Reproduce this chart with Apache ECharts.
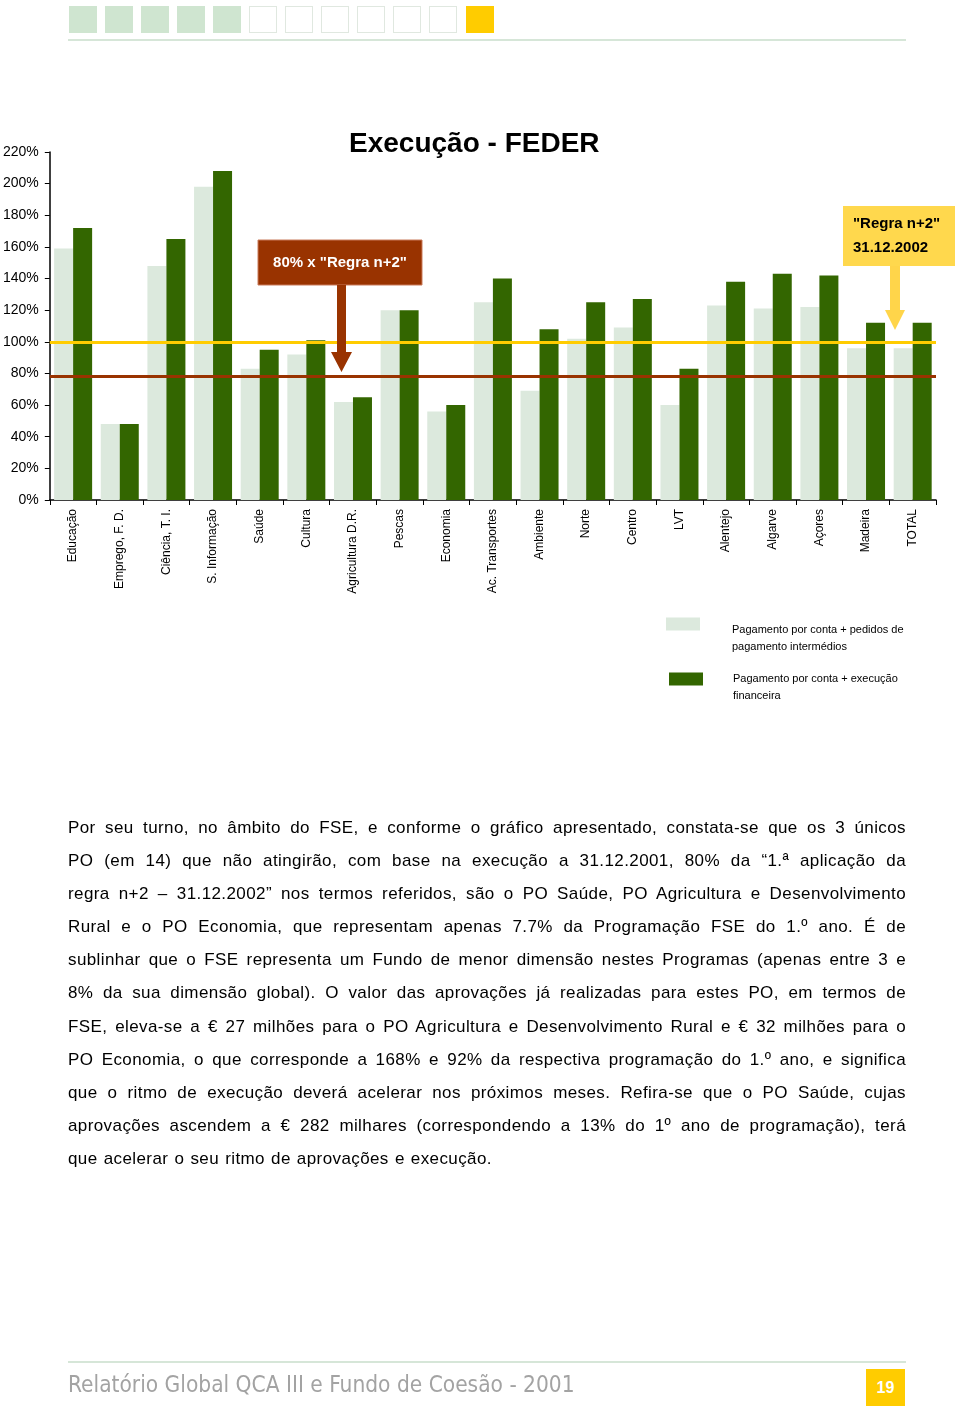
<!DOCTYPE html>
<html>
<head>
<meta charset="utf-8">
<script src="https://cdn.jsdelivr.net/npm/echarts@6/dist/echarts.min.js"></script>
<style>
  html, body { margin:0; padding:0; background:#fff; }
  body { width:960px; height:1409px; position:relative; overflow:hidden; font-family:"Liberation Sans", Arial, sans-serif; }
  #chart { position:absolute; left:0; top:0; width:960px; height:1409px; }
  .sq { position:absolute; top:6px; width:28px; height:27px; box-sizing:border-box; }
  .sq.g { background:#cfe5d0; }
  .sq.o { background:#fff; border:1.5px solid #e0e8e0; }
  .sq.y { background:#ffcc00; }
  .hline { position:absolute; left:68px; width:838px; height:2px; background:#d6e6d8; }
  #para { position:absolute; left:68px; top:811px; width:838px; font-size:17px; color:#000; letter-spacing:0.4px; word-spacing:1px; }
  #para div { height:33.1px; line-height:33.1px; text-align:justify; text-align-last:justify; white-space:nowrap; overflow:visible; }
  #para div.last { text-align-last:left; }
  #foot { position:absolute; left:68px; top:1371px; font-family:"DejaVu Sans", sans-serif; font-stretch:condensed; font-size:22.5px; color:#a3a3a3; }
  #page { position:absolute; left:866px; top:1369px; width:39px; height:37px; background:#ffcc00; color:#fff; font-weight:bold; font-size:16px; text-align:center; line-height:37px; }
</style>
</head>
<body>
<div id="chart"></div>
<div id="hdr"></div>
<div class="hline" style="top:39px"></div>
<div id="para"></div>
<div class="hline" style="top:1361px"></div>
<div id="foot">Relatório Global QCA III e Fundo de Coesão - 2001</div>
<div id="page">19</div>
<script>
// ---- data ----
const categories = ["Educação","Emprego, F. D.","Ciência, T. I.","S. Informação","Saúde","Cultura","Agricultura D.R.","Pescas","Economia","Ac. Transportes","Ambiente","Norte","Centro","LVT","Alentejo","Algarve","Açores","Madeira","TOTAL"];
const lightValues = [159, 48, 148, 198, 83, 92, 62, 120, 56, 125, 69, 102, 109, 60, 123, 121, 122, 96, 96];
const darkValues  = [172, 48, 165, 208, 95, 101, 65, 120, 60, 140, 108, 125, 127, 83, 138, 143, 142, 112, 112];
const lightName = "Pagamento por conta + pedidos de\npagamento intermédios";
const darkName = "Pagamento por conta + execução\nfinanceira";
const regraLine = 100;
const regra80Line = 78;
const yMin = 0, yMax = 220, yStep = 20;
const titleText = "Execução - FEDER";
const redBoxText = "80% x \"Regra n+2\"";
const yellowBoxText = "\"Regra n+2\"\n31.12.2002";
const paragraphLines = [
  "Por seu turno, no âmbito do FSE, e conforme o gráfico apresentado, constata-se que os 3 únicos",
  "PO (em 14) que não atingirão, com base na execução a 31.12.2001, 80% da “1.ª aplicação da",
  "regra n+2 – 31.12.2002” nos termos referidos, são o PO Saúde, PO Agricultura e Desenvolvimento",
  "Rural e o PO Economia, que representam apenas 7.7% da Programação FSE do 1.º ano. É de",
  "sublinhar que o FSE representa um Fundo de menor dimensão nestes Programas (apenas entre 3 e",
  "8% da sua dimensão global). O valor das aprovações já realizadas para estes PO, em termos de",
  "FSE, eleva-se a € 27 milhões para o PO Agricultura e Desenvolvimento Rural e € 32 milhões para o",
  "PO Economia, o que corresponde a 168% e 92% da respectiva programação do 1.º ano, e significa",
  "que o ritmo de execução deverá acelerar nos próximos meses. Refira-se que o PO Saúde, cujas",
  "aprovações ascendem a € 282 milhares (correspondendo a 13% do 1º ano de programação), terá",
  "que acelerar o seu ritmo de aprovações e execução."
];
const headerSquares = ["g","g","g","g","g","o","o","o","o","o","o","y"];

// ---- page decoration ----
const hdr = document.getElementById('hdr');
const sqLeft = [69,105,141,177,213,249,285,321,357,393,429,466];
headerSquares.forEach((c,i)=>{ const d=document.createElement('div'); d.className='sq '+c; d.style.left=sqLeft[i]+'px'; hdr.appendChild(d); });
const para = document.getElementById('para');
paragraphLines.forEach((t,i)=>{ const d=document.createElement('div'); d.textContent=t; if(i===paragraphLines.length-1) d.className='last'; para.appendChild(d); });

// ---- chart ----
const FONT = '"Liberation Sans", Arial, sans-serif';
function legendFmt(name){ return '{s| }\n' + name.split('\n').map(l => '{b|' + l + '}').join('\n'); }
const chart = echarts.init(document.getElementById('chart'), null, {renderer:'canvas'});
chart.setOption({
  animation:false,
  backgroundColor:'transparent',
  textStyle:{fontFamily:FONT},
  title:{ text:titleText, left:344, top:125, textStyle:{fontSize:28, fontWeight:'bold', color:'#000', fontFamily:FONT} },
  grid:{ left:49, right:24, top:152, height:348, containLabel:false },
  legend:[
    { data:[lightName], left:666, top:601.5, padding:0, orient:'vertical', selectedMode:false, icon:'rect', itemWidth:34, itemHeight:13,
      formatter:legendFmt,
      textStyle:{fontSize:11, color:'#000', fontFamily:FONT, padding:[0,0,0,27],
        rich:{ s:{fontSize:11, lineHeight:28}, b:{fontSize:11, lineHeight:17, color:'#000', fontFamily:FONT} } } },
    { data:[darkName], left:669, top:656.5, padding:0, orient:'vertical', selectedMode:false, icon:'rect', itemWidth:34, itemHeight:13,
      formatter:legendFmt,
      textStyle:{fontSize:11, color:'#000', fontFamily:FONT, padding:[0,0,0,25],
        rich:{ s:{fontSize:11, lineHeight:16}, b:{fontSize:11, lineHeight:17, color:'#000', fontFamily:FONT} } } }
  ],
  xAxis:{
    type:'category', data:categories,
    axisLine:{show:true, lineStyle:{color:'#000', width:1.5}},
    axisTick:{show:true, interval:0, length:5, lineStyle:{color:'#000'}},
    axisLabel:{interval:0, rotate:90, fontSize:12, color:'#000', margin:9, fontFamily:FONT},
    splitLine:{show:false}
  },
  yAxis:{
    type:'value', min:yMin, max:yMax, interval:yStep,
    axisLine:{show:true, lineStyle:{color:'#000', width:1.5}},
    axisTick:{show:true, length:5, lineStyle:{color:'#000'}},
    axisLabel:{formatter:'{value}%', fontSize:14, color:'#000', margin:11, fontFamily:FONT},
    splitLine:{show:false}
  },
  series:[
    { name:lightName, type:'bar', data:lightValues, barWidth:19, barGap:'0%', itemStyle:{color:'#dce9dd'} },
    { name:darkName, type:'bar', data:darkValues, barWidth:19, barGap:'0%', itemStyle:{color:'#336600'},
      markLine:{ silent:true, symbol:'none', label:{show:false},
        data:[ {yAxis:regraLine, lineStyle:{color:'#ffcc00', width:3, type:'solid'}},
               {yAxis:regra80Line, lineStyle:{color:'#993300', width:3, type:'solid'}} ] } }
  ],
  graphic:[
    { type:'rect', shape:{x:258, y:240, width:164, height:45}, style:{fill:'#993300', stroke:'#c97a5a', lineWidth:1}, z:10 },
    { type:'text', x:340, y:263, style:{text:redBoxText, fill:'#fff', font:'bold 15px '+FONT, align:'center', verticalAlign:'middle'}, z:11 },
    { type:'polygon', shape:{points:[[337,285],[346,285],[346,352],[352,352],[341.5,372],[331,352],[337,352]]}, style:{fill:'#993300'}, z:10 },
    { type:'rect', shape:{x:843, y:206, width:112, height:60}, style:{fill:'#ffd84d'}, z:10 },
    { type:'text', x:853, y:236, style:{text:yellowBoxText, fill:'#000', font:'bold 15px '+FONT, align:'left', verticalAlign:'middle', lineHeight:24}, z:11 },
    { type:'polygon', shape:{points:[[890,266],[900,266],[900,310],[905,310],[895,330],[885,310],[890,310]]}, style:{fill:'#ffd54a'}, z:10 }
  ]
});
</script>
</body>
</html>
